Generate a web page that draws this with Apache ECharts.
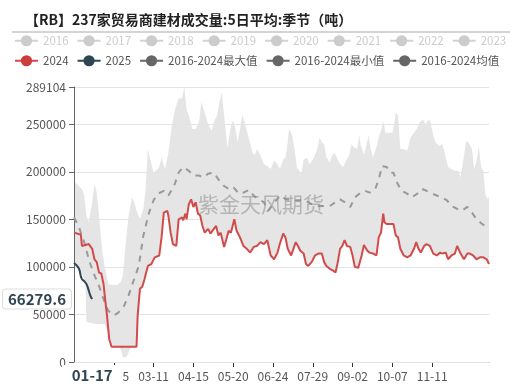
<!DOCTYPE html>
<html><head><meta charset="utf-8">
<script src="https://cdn.jsdelivr.net/npm/echarts@6/dist/echarts.min.js"></script>
<style>html,body{margin:0;padding:0;background:#fff;}#c{width:522px;height:386px;}</style>
</head><body><div id="c"></div>
<script>
const chartTitle = '【RB】237家贸易商建材成交量:5日平均:季节（吨）';
const watermark = '紫金天风期货';
const yMax = 289104;
const yInterval = 50000;
const xLabelDates = ['02-05','03-11','04-15','05-20','06-24','07-29','09-02','10-07','11-11'];
const pointerDate = '01-17';
const hiddenYears = ['2016','2017','2018','2019','2020','2021','2022','2023'];
const nameMax = '2016-2024最大值', nameMin = '2016-2024最小值', nameMean = '2016-2024均值';

const s2024 = [
['01-01',136000],['01-05',134600],['01-07',134000],['01-08',122000],['01-14',124000],['01-17',119000],
['01-19',108000],['01-21',105000],['01-23',94000],['01-25',93000],['01-27',82000],['01-28',70000],
['01-30',49000],['02-01',24000],['02-03',16000],['02-25',16000],['02-26',49000],['02-28',77000],
['03-01',79000],['03-03',87000],['03-06',101000],['03-09',103000],['03-12',110000],['03-16',112000],
['03-18',131000],['03-20',157000],['03-23',159000],['03-24',154000],['03-26',136000],['03-28',124000],
['03-31',122000],['04-02',150000],['04-05',152000],['04-06',149000],['04-08',156000],['04-09',150000],
['04-11',166000],['04-13',171000],['04-15',163000],['04-17',168000],['04-19',156000],['04-21',154000],
['04-23',143000],['04-25',136000],['04-28',140000],['04-30',135000],['05-03',140000],['05-05',143000],
['05-07',133000],['05-09',136000],['05-12',121000],['05-14',129000],['05-16',138000],['05-18',136000],
['05-21',150000],['05-23',138000],['05-26',131000],['05-29',122000],['06-01',119000],['06-04',115000],
['06-07',121000],['06-10',122000],['06-13',126000],['06-16',124000],['06-19',128000],['06-22',112000],
['06-25',108000],['06-28',115000],['06-30',124000],['07-03',135000],['07-05',131000],['07-07',119000],
['07-10',112000],['07-12',119000],['07-14',126000],['07-16',122000],['07-18',117000],['07-21',114000],
['07-23',103000],['07-25',101000],['07-28',105000],['07-31',112000],['08-03',114000],['08-06',114000],
['08-08',105000],['08-10',101000],['08-13',98000],['08-16',96000],['08-18',94000],['08-20',105000],
['08-22',119000],['08-24',122000],['08-26',128000],['08-28',122000],['08-31',121000],['09-02',112000],
['09-04',100000],['09-07',99000],['09-10',112000],['09-12',123000],['09-15',117000],['09-17',115000],
['09-20',114000],['09-23',112000],['09-25',131000],['09-27',136000],['09-29',156000],['09-30',147000],
['10-02',145000],['10-05',145000],['10-08',145000],['10-10',133000],['10-12',131000],['10-14',119000],
['10-17',112000],['10-20',110000],['10-23',112000],['10-26',119000],['10-28',126000],['10-30',119000],
['11-01',115000],['11-04',122000],['11-06',124000],['11-09',122000],['11-12',114000],['11-15',112000],
['11-18',115000],['11-20',114000],['11-23',115000],['11-25',108000],['11-28',112000],['12-01',114000],
['12-03',122000],['12-06',114000],['12-09',108000],['12-12',114000],['12-14',114000],['12-17',112000],
['12-20',108000],['12-23',110000],['12-26',110000],['12-29',108000],['12-31',103000]
];

const s2025 = [
['01-01',104000],['01-02',103500],['01-03',102000],['01-04',101000],['01-05',99000],['01-06',96000],
['01-07',90000],['01-08',87000],['01-09',86000],['01-10',85000],['01-11',84000],['01-12',82000],
['01-13',79000],['01-14',75000],['01-15',71000],['01-16',68000],['01-17',66279.6]
];

const sMean = [
['01-01',152000],['01-05',143000],['01-10',126000],['01-14',108000],['01-18',94000],['01-23',80000],
['01-27',66000],['01-31',54000],['02-05',49000],['02-09',52000],['02-14',59000],['02-18',70000],
['02-22',84000],['02-27',101000],['03-02',133000],['03-07',157000],['03-11',170000],['03-15',177000],
['03-20',180000],['03-24',175000],['03-29',185000],['04-02',199000],['04-06',205000],['04-11',201000],
['04-15',196000],['04-20',196000],['04-24',194000],['04-28',198000],['05-03',199000],['05-07',192000],
['05-12',185000],['05-16',182000],['05-20',184000],['05-25',177000],['05-29',178000],['06-03',181000],
['06-07',175000],['06-11',171000],['06-16',168000],['06-20',159000],['06-25',168000],['06-29',173000],
['07-02',175000],['07-05',171000],['07-11',170000],['07-16',170000],['07-22',170000],['07-28',166000],
['08-03',164000],['08-07',164000],['08-13',164000],['08-18',168000],['08-22',171000],['08-26',168000],
['08-31',163000],['09-04',173000],['09-09',178000],['09-13',180000],['09-17',178000],['09-22',182000],
['09-25',192000],['09-28',206000],['10-02',205000],['10-05',199000],['10-08',199000],['10-11',189000],
['10-15',180000],['10-20',177000],['10-24',173000],['10-29',177000],['11-02',182000],['11-06',180000],
['11-11',177000],['11-15',175000],['11-20',173000],['11-24',170000],['11-28',164000],['12-03',161000],
['12-07',159000],['12-12',163000],['12-16',157000],['12-20',150000],['12-25',145000],['12-29',142000],
['12-31',140000]
];

const sMax = [
['01-01',192000],['01-02',189000],['01-05',185000],['01-08',182000],['01-10',175000],['01-12',154000],
['01-14',147000],['01-17',168000],['01-19',187000],['01-21',178000],['01-23',154000],['01-26',115000],
['01-28',101000],['01-31',82000],['02-03',81000],['02-08',81000],['02-11',84000],['02-13',91000],
['02-15',119000],['02-18',154000],['02-21',173000],['02-23',168000],['02-25',159000],['02-28',150000],
['03-02',161000],['03-04',182000],['03-06',224000],['03-08',213000],['03-11',199000],['03-14',202000],
['03-16',205000],['03-18',215000],['03-21',203000],['03-24',220000],['03-27',248000],['03-30',266000],
['04-02',277000],['04-05',277000],['04-07',289104],['04-09',266000],['04-11',259000],['04-14',245000],
['04-17',245000],['04-20',252000],['04-22',273000],['04-25',262000],['04-28',250000],['05-01',243000],
['05-03',252000],['05-06',260000],['05-08',274000],['05-10',283000],['05-11',283000],['05-13',248000],
['05-15',225000],['05-18',248000],['05-20',254000],['05-22',245000],['05-24',231000],['05-26',245000],
['05-28',260000],['05-31',248000],['06-03',234000],['06-06',220000],['06-08',218000],['06-10',224000],
['06-13',217000],['06-16',208000],['06-19',206000],['06-22',203000],['06-25',212000],['06-28',208000],
['06-30',203000],['07-03',213000],['07-05',215000],['07-07',231000],['07-08',245000],['07-11',238000],
['07-13',224000],['07-15',205000],['07-17',201000],['07-19',199000],['07-21',213000],['07-24',215000],
['07-26',208000],['07-28',211000],['07-30',215000],['08-02',224000],['08-04',236000],['08-06',231000],
['08-08',229000],['08-10',215000],['08-13',210000],['08-15',217000],['08-17',220000],['08-19',215000],
['08-22',208000],['08-25',205000],['08-27',211000],['08-30',217000],['09-01',229000],['09-03',226000],
['09-06',224000],['09-08',239000],['09-09',229000],['09-12',218000],['09-14',227000],['09-16',238000],
['09-18',224000],['09-20',215000],['09-23',226000],['09-25',236000],['09-27',243000],['09-29',253000],
['10-01',241000],['10-04',241000],['10-07',241000],['10-09',253000],['10-10',262000],['10-12',259000],
['10-14',224000],['10-17',224000],['10-20',222000],['10-23',236000],['10-26',241000],['10-29',246000],
['10-31',252000],['11-03',255000],['11-05',250000],['11-07',253000],['11-09',255000],['11-12',238000],
['11-14',231000],['11-17',227000],['11-20',229000],['11-22',220000],['11-25',205000],['11-28',203000],
['12-01',201000],['12-04',201000],['12-06',194000],['12-09',217000],['12-11',232000],['12-13',231000],
['12-16',224000],['12-18',203000],['12-20',211000],['12-22',227000],['12-24',205000],['12-26',201000],
['12-28',175000],['12-30',171000],['12-31',175000]
];

// lower edge of the band before it coincides with 2024
const sMinEarly = [
['01-01',100000],['01-05',98000],['01-09',90000],['01-11',80000],['01-12',42000],['01-20',40000],
['01-28',40000],['01-29',38000],['01-31',30000],['02-01',24000],['02-03',16000],['02-10',16000],
['02-12',10000],['02-13',5000],['02-16',5000],['02-18',10000],['02-20',16000],['02-25',16000]
];
const minFollows2024From = '02-26';

const monthLen = [31,29,31,30,31,30,31,31,30,31,30,31];
function dayOf(s){ const m=+s.slice(0,2), d=+s.slice(3,5); let n=0; for(let i=0;i<m-1;i++) n+=monthLen[i]; return n+d-1; }
function fmtDay(v){ let n=Math.round(v), m=0; while(m<11 && n>=monthLen[m]){ n-=monthLen[m]; m++; } return String(m+1).padStart(2,'0')+'-'+String(n+1).padStart(2,'0'); }
const toXY = arr => arr.map(p => [dayOf(p[0]), p[1]]);

const minData = sMinEarly.concat(s2024.filter(p => dayOf(p[0]) >= dayOf(minFollows2024From)));

const font = "'Noto Sans CJK SC', 'Noto Sans', sans-serif";
const chart = echarts.init(document.getElementById('c'));
const hiddenSel = {}; hiddenYears.forEach(y => hiddenSel[y] = false);

const series = hiddenYears.map(y => ({name:y, type:'line', data:[], symbol:'circle', showSymbol:false, color:'#ccc'}));
series.push(
 {name:nameMax, type:'line', data:toXY(sMax), symbol:'circle', showSymbol:false, color:'#666',
  lineStyle:{opacity:0}, areaStyle:{color:'#e5e5e5', opacity:1}, z:1, silent:true},
 {name:nameMin, type:'line', data:toXY(minData), symbol:'circle', showSymbol:false, color:'#666',
  lineStyle:{opacity:0}, areaStyle:{color:'#ffffff', opacity:1}, z:1, silent:true},
 {name:nameMean, type:'line', data:toXY(sMean), symbol:'circle', showSymbol:false, color:'#999',
  lineStyle:{color:'#999', width:2, type:[6,6]}, z:3},
 {name:'2024', type:'line', data:toXY(s2024), symbol:'circle', showSymbol:false, color:'#cc3d3d',
  lineStyle:{width:2, color:'#d24b4b'}, z:4},
 {name:'2025', type:'line', data:toXY(s2025), symbol:'circle', showSymbol:false, color:'#2f4554',
  lineStyle:{width:2}, z:5}
);

const legendCommon = {left:14, width:505, itemWidth:23, itemHeight:14, itemGap:8, padding:0,
  textStyle:{fontSize:11.5, color:'#555', fontFamily:font}, inactiveColor:'#ccc'};
const greyIcon = n => ({name:n, itemStyle:{color:'#666'}, lineStyle:{color:'#666', opacity:1, type:'solid', width:2}});

const lastVal = s2025[s2025.length-1][1];

chart.setOption({
 animation:false,
 textStyle:{fontFamily:font},
 title:{text:chartTitle, left:20, top:8, textStyle:{fontSize:14, fontWeight:'bold', color:'#222', fontFamily:font}},
 legend:[
  Object.assign({top:35, data:hiddenYears, selected:hiddenSel}, legendCommon),
  Object.assign({top:55, data:['2024','2025',greyIcon(nameMax),greyIcon(nameMin),greyIcon(nameMean)]}, legendCommon)
 ],
 grid:{left:74, right:33, top:87, bottom:24},
 xAxis:{type:'value', min:0, max:dayOf('12-31'), interval:35, splitLine:{show:false},
  axisLine:{lineStyle:{color:'#666'}},
  axisTick:{customValues:xLabelDates.map(dayOf), lineStyle:{color:'#333'}},
  axisLabel:{customValues:xLabelDates.map(dayOf), formatter:v=>fmtDay(v), color:'#555', fontSize:12, margin:8},
  axisPointer:{show:true, value:dayOf(pointerDate), status:'show', triggerTooltip:false,
   lineStyle:{opacity:0}, handle:{show:false},
   label:{show:true, formatter:p=>fmtDay(p.value), backgroundColor:'#fff', color:'#2f4554', fontWeight:'bold',
    fontSize:15, padding:[3,10,3,10], borderWidth:0, shadowBlur:0, fontFamily:font}}
 },
 yAxis:{type:'value', min:0, max:yMax, interval:yInterval, z:3,
  axisLine:{show:true, lineStyle:{color:'#666'}}, axisTick:{show:true, lineStyle:{color:'#666'}},
  splitLine:{lineStyle:{color:'#e3e3e3'}},
  axisLabel:{formatter:v=>String(v), color:'#555', fontSize:12},
  axisPointer:{show:true, value:lastVal, status:'show', triggerTooltip:false, lineStyle:{opacity:0},
   label:{show:true, formatter:()=>String(lastVal), backgroundColor:'#fff', borderColor:'#ddd', borderWidth:1,
    color:'#2f4554', fontWeight:'bold', fontSize:15, padding:[2,5,2,5], shadowBlur:0, fontFamily:font}}
 },
 graphic:[
  {type:'line', shape:{x1:12, y1:32, x2:510, y2:32}, style:{stroke:'#aaa', lineWidth:1}, silent:true},
  {type:'text', left:198, top:194, z:100, silent:true,
   style:{text:watermark, fontSize:21, fill:'rgba(140,140,140,0.55)', fontFamily:font}}
 ],
 series:series
});
</script></body></html>
